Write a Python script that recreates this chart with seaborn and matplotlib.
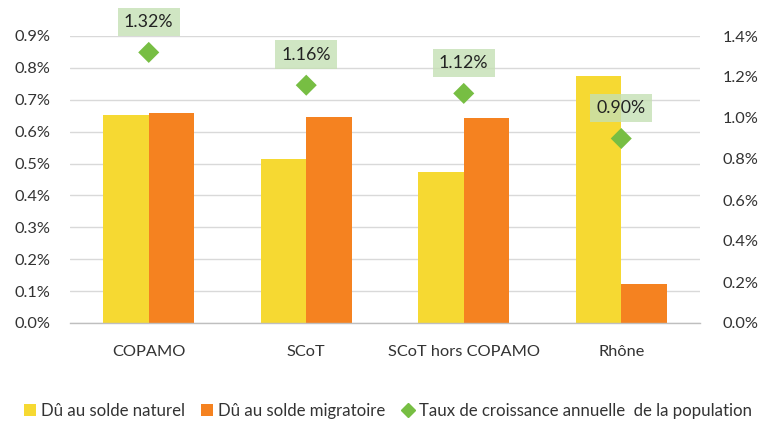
import matplotlib
matplotlib.use("Agg")
import matplotlib.pyplot as plt
import seaborn as sns
import pandas as pd
from matplotlib.lines import Line2D
from matplotlib.patches import Patch
from matplotlib.ticker import FuncFormatter, MultipleLocator, FixedLocator

categories = ["COPAMO", "SCoT", "SCoT hors COPAMO", "Rhône"]
naturel = [0.652, 0.514, 0.473, 0.774]
migratoire = [0.658, 0.646, 0.643, 0.122]
taux = [1.32, 1.16, 1.12, 0.90]
series_names = ["Dû au solde naturel", "Dû au solde migratoire",
                "Taux de croissance annuelle  de la population"]

sns.set_theme(style="white")
plt.rcParams["font.family"] = ["Lato", "DejaVu Sans"]

YELLOW = "#F6D932"
ORANGE = "#F58220"
GREEN = "#77BE43"
TXT = "#333333"

df = pd.DataFrame({
    "cat": categories * 2,
    "serie": [series_names[0]] * 4 + [series_names[1]] * 4,
    "val": naturel + migratoire,
})

fig = plt.figure(figsize=(7.69, 4.21), dpi=100)
ax = fig.add_axes([70 / 769, 1 - 323 / 421, 630 / 769, 287 / 421])

sns.barplot(data=df, x="cat", y="val", hue="serie",
            palette=[YELLOW, ORANGE], width=0.575, gap=0,
            saturation=1, ax=ax, legend=False, linewidth=0)

ax.set_xlim(-0.5, 3.5)
ax.set_ylim(0, 0.9)
ax.yaxis.set_major_locator(MultipleLocator(0.1))
ax.yaxis.set_major_formatter(FuncFormatter(lambda v, p: f"{v:.1f}%"))
ax.grid(axis="y", color="#D9D9D9", linewidth=1)
ax.set_axisbelow(True)
for s in ["top", "right", "left"]:
    ax.spines[s].set_visible(False)
ax.spines["bottom"].set_color("#BFBFBF")
ax.spines["bottom"].set_linewidth(1)
ax.set_xlabel("")
ax.set_ylabel("")
ax.xaxis.set_minor_locator(FixedLocator([-0.5, 0.5, 1.5, 2.5, 3.5]))
ax.tick_params(axis="x", which="major", length=0, pad=16, labelsize=11.8, labelcolor=TXT)
ax.tick_params(axis="x", which="minor", length=5, color="#BFBFBF", width=1)
ax.tick_params(axis="y", length=0, pad=14, labelsize=11.8, labelcolor=TXT)

ax2 = ax.twinx()
sns.scatterplot(x=list(range(4)), y=taux, marker="D", s=115, color=GREEN,
                edgecolor="none", ax=ax2, zorder=5)
ax2.set_ylim(0, 1.4)
ax2.set_xlim(-0.5, 3.5)
ax2.yaxis.set_major_locator(MultipleLocator(0.2))
ax2.yaxis.set_major_formatter(FuncFormatter(lambda v, p: f"{v:.1f}%"))
for s in ["top", "right", "left", "bottom"]:
    ax2.spines[s].set_visible(False)
ax2.tick_params(axis="y", length=0, pad=16, labelsize=11.8, labelcolor=TXT)
ax2.grid(False)

for i, v in enumerate(taux):
    ax2.annotate(f"{v:.2f}%", xy=(i, v), xytext=(0, 22), textcoords="offset points",
                 ha="center", va="center", fontsize=12.8, color="#222222", zorder=6,
                 bbox=dict(boxstyle="square,pad=0.35", facecolor="#C5E0B4",
                           edgecolor="none", alpha=0.8))

handles = [
    Patch(facecolor=YELLOW, edgecolor="none"),
    Patch(facecolor=ORANGE, edgecolor="none"),
    Line2D([], [], marker="D", linestyle="none", color=GREEN, markersize=7.5),
]
leg = fig.legend(handles, series_names, loc="center", ncol=3,
                 bbox_to_anchor=(388 / 769, 1 - 411 / 421), frameon=False,
                 fontsize=12.1, handlelength=0.7, handleheight=0.7,
                 handletextpad=0.3, columnspacing=1.0, borderpad=0.1)
for t in leg.get_texts():
    t.set_color(TXT)

fig.savefig("out.png", dpi=100)
